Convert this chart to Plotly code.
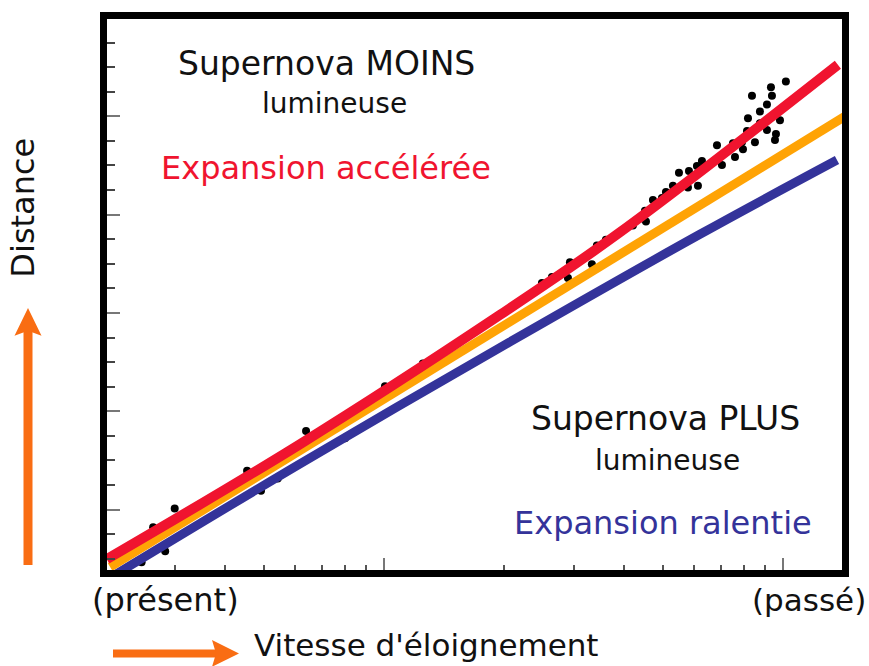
import plotly.graph_objects as go

# Supernova Ia sample: recession (redshift) vs. apparent magnitude (distance)
sn_z = [0.0247, 0.0264, 0.0283, 0.0299, 0.0454, 0.0492, 0.0542, 0.0638, 0.0799,
        0.1006, 0.1252, 0.2489, 0.2637, 0.2892, 0.2925, 0.332, 0.3417, 0.360,
        0.4159, 0.4536, 0.451, 0.4723, 0.5091, 0.530, 0.5488, 0.5814, 0.578,
        0.6087, 0.6123, 0.6266, 0.630, 0.6834, 0.7033, 0.7409, 0.7495, 0.7582,
        0.7894, 0.794, 0.8126, 0.8173, 0.8363, 0.8508, 0.8757, 0.8757, 0.9119,
        0.9119, 0.9331, 0.9385, 0.955, 0.9605, 0.983, 1.017, 0.4207, 0.4459, 0.4974]
sn_mag = [14.93, 15.64, 15.15, 16.02, 16.79, 16.38, 16.63, 17.60, 17.45,
          18.51, 18.97, 20.61, 20.73, 20.71, 21.03, 20.99, 21.37, 21.49,
          21.80, 21.86, 22.08, 22.30, 22.46, 22.59, 22.85, 22.89, 22.55,
          22.99, 22.59, 23.09, 22.95, 23.41, 23.01, 23.35, 23.45, 23.17,
          23.47, 23.33, 23.70, 23.96, 24.42, 23.47, 24.10, 23.86, 23.72,
          24.24, 24.59, 24.42, 23.52, 23.64, 23.92, 24.71, 21.78, 21.92, 22.34]

# Model curves
accel_z = [0.0202, 0.0616, 0.1953, 0.3904, 1.373]
accel_mag = [14.99, 17.33, 19.96, 21.64, 25.05]
coast_z = [0.0206, 1.43]
coast_mag = [14.83, 24.00]
decel_z = [0.0200, 0.0616, 0.2069, 0.6194, 1.366]
decel_mag = [14.55, 16.93, 19.41, 21.60, 23.11]

RED = "#f0142f"
ORANGE = "#ffa305"
BLUE = "#34339a"
ARROW = "#f96d13"
FONT = "DejaVu Sans"

W, H = 869, 666
PLOT_L, PLOT_R, PLOT_T, PLOT_B = 107, 842, 15, 570


def paper_x(xp):
    return (xp - PLOT_L) / (PLOT_R - PLOT_L)


def paper_y(yp):
    return (PLOT_B - yp) / (PLOT_B - PLOT_T)


fig = go.Figure()
fig.add_trace(go.Scatter(x=sn_z, y=sn_mag, mode="markers",
                         marker=dict(color="black", size=8), hoverinfo="skip"))
fig.add_trace(go.Scatter(x=decel_z, y=decel_mag, mode="lines",
                         line=dict(color=BLUE, width=9, shape="spline", smoothing=1)))
fig.add_trace(go.Scatter(x=coast_z, y=coast_mag, mode="lines",
                         line=dict(color=ORANGE, width=9)))
fig.add_trace(go.Scatter(x=accel_z, y=accel_mag, mode="lines",
                         line=dict(color=RED, width=10, shape="spline", smoothing=1)))

annotations = []


def label(text, xp, yp, color="#111111", size=32, angle=0):
    annotations.append(dict(text=text, x=paper_x(xp), y=paper_y(yp), xref="paper", yref="paper",
                            showarrow=False, xanchor="center", yanchor="middle",
                            textangle=angle, font=dict(family=FONT, size=size, color=color)))


label("Supernova MOINS", 326, 60, size=33)
label("lumineuse", 334, 100, size=28)
label("Expansion accélérée", 326, 165, color=RED)
label("Supernova PLUS", 665, 417, size=33)
label("lumineuse", 667, 460, size=28)
label("Expansion ralentie", 663, 523, color=BLUE)
label("(présent)", 165, 600)
label("(passé)", 809, 600, size=31)
label("Vitesse d'éloignement", 426, 646, size=31)
label("Distance", 23, 205, angle=-90)

shapes = [
    # vertical arrow (distance)
    dict(type="line", xref="paper", yref="paper", x0=paper_x(28), x1=paper_x(28),
         y0=paper_y(565), y1=paper_y(328), line=dict(color=ARROW, width=9)),
    dict(type="path", xref="paper", yref="paper", fillcolor=ARROW, line=dict(width=0),
         path=f"M{paper_x(28)},{paper_y(306)} L{paper_x(41.5)},{paper_y(334)} "
              f"L{paper_x(28)},{paper_y(329)} L{paper_x(14.5)},{paper_y(334)} Z"),
    # horizontal arrow (vitesse)
    dict(type="line", xref="paper", yref="paper", x0=paper_x(113), x1=paper_x(217),
         y0=paper_y(654), y1=paper_y(654), line=dict(color=ARROW, width=8)),
    dict(type="path", xref="paper", yref="paper", fillcolor=ARROW, line=dict(width=0),
         path=f"M{paper_x(239)},{paper_y(654)} L{paper_x(212)},{paper_y(640.5)} "
              f"L{paper_x(216)},{paper_y(654)} L{paper_x(212)},{paper_y(667.5)} Z"),
]

fig.update_layout(
    width=W, height=H,
    margin=dict(l=PLOT_L, r=W - PLOT_R, t=PLOT_T, b=H - PLOT_B),
    paper_bgcolor="white", plot_bgcolor="white",
    showlegend=False,
    annotations=annotations,
    shapes=shapes,
    xaxis=dict(type="log", range=[-1.694, 0.148], showgrid=False, zeroline=False,
               showline=True, linecolor="black", linewidth=7, mirror=True,
               ticks="inside", dtick=1, ticklen=12, tickwidth=2, tickcolor="#777777",
               showticklabels=False,
               minor=dict(dtick="D1", ticks="inside", ticklen=5, tickwidth=2,
                          tickcolor="#555555", showgrid=False)),
    yaxis=dict(range=[14.77, 25.98], showgrid=False, zeroline=False,
               showline=True, linecolor="black", linewidth=7, mirror=True,
               ticks="inside", tick0=16, dtick=2, ticklen=13, tickwidth=2,
               tickcolor="#777777", showticklabels=False,
               minor=dict(dtick=0.5, ticks="inside", ticklen=8, tickwidth=2,
                          tickcolor="#444444", showgrid=False)),
)

fig.write_html("out.html")
